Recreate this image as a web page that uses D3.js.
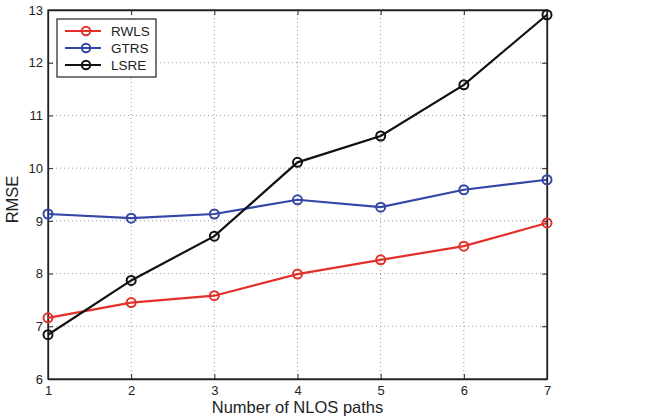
<!DOCTYPE html>
<html><head><meta charset="utf-8">
<script src="https://cdn.jsdelivr.net/npm/d3@7"></script>
<style>body{margin:0;background:#fff}svg{display:block}text{font-family:"Liberation Sans",Arial,sans-serif}</style>
</head><body><svg id="c" width="668" height="417"></svg>
<script>
const paths = [1,2,3,4,5,6,7];
const rwls = [7.16,7.45,7.58,7.99,8.26,8.52,8.96];
const gtrs = [9.13,9.05,9.13,9.40,9.26,9.59,9.78];
const lsre = [6.84,7.87,8.71,10.11,10.61,11.58,12.91];
const yTicks = [6,7,8,9,10,11,12,13];
const seriesNames = ["RWLS","GTRS","LSRE"];
const seriesColors = ["#e2302a","#3446a6","#111111"];
const seriesData = [rwls,gtrs,lsre];

const svg = d3.select("#c");
const L=48,R=547,T=10,B=379;
const x = d3.scaleLinear().domain([1,7]).range([L,R]);
const y = d3.scaleLinear().domain([6,13]).range([B,T]);

// grid
const g = svg.append("g");
g.selectAll(".gx").data(paths.slice(1,-1)).enter().append("line")
 .attr("x1",d=>x(d)).attr("x2",d=>x(d)).attr("y1",T).attr("y2",B)
 .attr("stroke","#999").attr("stroke-width",1).attr("stroke-dasharray","1,3");
g.selectAll(".gy").data(yTicks.slice(1,-1)).enter().append("line")
 .attr("y1",d=>y(d)).attr("y2",d=>y(d)).attr("x1",L).attr("x2",R)
 .attr("stroke","#999").attr("stroke-width",1).attr("stroke-dasharray","1,3");

// axes
const ax = svg.append("g").attr("transform",`translate(0,${B})`)
 .call(d3.axisBottom(x).tickValues(paths).tickFormat(d3.format("d")).tickSizeInner(-5).tickSizeOuter(0).tickPadding(7));
const axT = svg.append("g").attr("transform",`translate(0,${T})`)
 .call(d3.axisTop(x).tickValues(paths).tickFormat("").tickSizeInner(-5).tickSizeOuter(0));
const ay = svg.append("g").attr("transform",`translate(${L},0)`)
 .call(d3.axisLeft(y).tickValues(yTicks).tickFormat(d3.format("d")).tickSizeInner(-5).tickSizeOuter(0).tickPadding(5));
const ayR = svg.append("g").attr("transform",`translate(${R},0)`)
 .call(d3.axisRight(y).tickValues(yTicks).tickFormat("").tickSizeInner(-5).tickSizeOuter(0));
[ax,axT,ay,ayR].forEach(a=>{
  a.select(".domain").attr("stroke","#222").attr("stroke-width",1.3);
  a.selectAll(".tick line").attr("stroke","#222").attr("stroke-width",1);
  a.selectAll("text").attr("font-size",13).attr("fill","#222").attr("font-family","Liberation Sans, Arial, sans-serif");
});
svg.append("rect").attr("x",L).attr("y",T).attr("width",R-L).attr("height",B-T)
 .attr("fill","none").attr("stroke","#222").attr("stroke-width",1.3);

// series
const line = d3.line().x((d,i)=>x(paths[i])).y(d=>y(d));
seriesData.forEach((s,k)=>{
  svg.append("path").datum(s).attr("d",line).attr("fill","none")
   .attr("stroke",seriesColors[k]).attr("stroke-width",2.2);
  svg.selectAll(null).data(s).enter().append("circle")
   .attr("cx",(d,i)=>x(paths[i])).attr("cy",d=>y(d)).attr("r",4.5)
   .attr("fill","none").attr("stroke",seriesColors[k]).attr("stroke-width",2);
});

// legend
const lg = svg.append("g");
lg.append("rect").attr("x",57).attr("y",19).attr("width",99).attr("height",58)
 .attr("fill","#fff").attr("stroke","#222").attr("stroke-width",1.2);
seriesNames.forEach((n,k)=>{
  const yy = 31 + k*17;
  lg.append("line").attr("x1",65).attr("x2",101).attr("y1",yy).attr("y2",yy)
   .attr("stroke",seriesColors[k]).attr("stroke-width",2.2);
  lg.append("circle").attr("cx",86).attr("cy",yy).attr("r",4.2)
   .attr("fill","none").attr("stroke",seriesColors[k]).attr("stroke-width",2);
  lg.append("text").attr("x",111).attr("y",yy+5).attr("font-size",13.5).attr("fill","#222").text(n);
});

// labels
svg.append("text").attr("x",(L+R)/2).attr("y",413).attr("text-anchor","middle")
 .attr("font-size",16.5).attr("fill","#222").text("Number of NLOS paths");
svg.append("text").attr("transform",`translate(18,${(T+B)/2+5}) rotate(-90)`).attr("text-anchor","middle")
 .attr("font-size",16.5).attr("fill","#222").text("RMSE");
</script></body></html>
